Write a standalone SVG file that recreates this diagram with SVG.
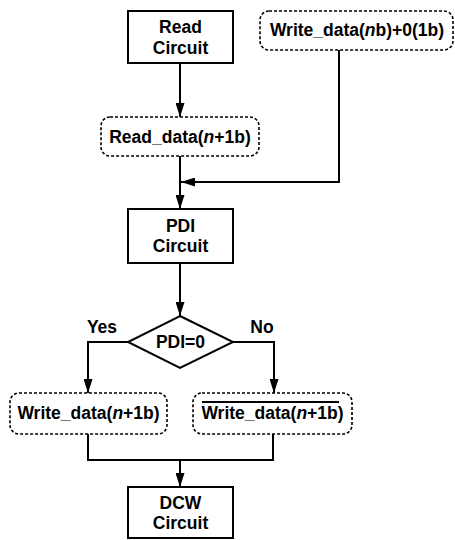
<svg xmlns="http://www.w3.org/2000/svg" width="455" height="540" viewBox="0 0 455 540">
<defs>
<marker id="arr" viewBox="0 0 10 10" refX="10" refY="5" markerWidth="14" markerHeight="9" markerUnits="userSpaceOnUse" orient="auto-start-reverse" preserveAspectRatio="none"><path d="M0,0 L10,5 L0,10 z" fill="#000"/></marker>
<style>
.box{fill:#fff;stroke:#000;stroke-width:2}
.dbox{fill:#fff;stroke:#000;stroke-width:1.6;stroke-dasharray:3 2}
.ln{fill:none;stroke:#000;stroke-width:2}
.ar{marker-end:url(#arr)}
text{font-family:"Liberation Sans",Arial,sans-serif;font-weight:bold;font-size:17.5px;text-anchor:middle;fill:#000}
.it{font-style:italic}
</style>
</defs>
<rect width="455" height="540" fill="#fff"/>
<g id="connectors">
<path class="ln ar" d="M180,63 V117"/>
<path class="ln" d="M180,156 V182"/>
<path class="ln ar" d="M339,50 V182 H181"/>
<path class="ln ar" d="M180,182 V209"/>
<path class="ln ar" d="M180,263 V316"/>
<path class="ln ar" d="M128,342 H88 V393"/>
<path class="ln ar" d="M233,342 H274 V393"/>
<path class="ln" d="M88,434 V460 H273 V434"/>
<path class="ln ar" d="M180,460 V487"/>
</g>
<g id="read-circuit">
<rect class="box" x="128" y="11" width="105" height="52"/>
<text x="180.5" y="33">Read</text>
<text x="180.5" y="54">Circuit</text>
</g>
<g id="write-data-nb">
<rect class="dbox" x="260" y="11" width="193" height="39" rx="9"/>
<text x="357" y="36">Write_data(<tspan class="it">n</tspan>b)+0(1b)</text>
</g>
<g id="read-data">
<rect class="dbox" x="101" y="117" width="158" height="39" rx="9"/>
<text x="180" y="143">Read_data(<tspan class="it">n</tspan>+1b)</text>
</g>
<g id="pdi-circuit">
<rect class="box" x="128" y="209" width="105" height="54"/>
<text x="180.5" y="232">PDI</text>
<text x="180.5" y="252">Circuit</text>
</g>
<g id="pdi-decision">
<path class="box" d="M180,316 L233,342 L180,368 L128,342 Z"/>
<text x="180.5" y="348">PDI=0</text>
<text x="102" y="333">Yes</text>
<text x="262" y="333">No</text>
</g>
<g id="write-data-yes">
<rect class="dbox" x="10" y="393" width="157" height="41" rx="9"/>
<text x="88.5" y="419">Write_data(<tspan class="it">n</tspan>+1b)</text>
</g>
<g id="write-data-no">
<rect class="dbox" x="193" y="393" width="159" height="41" rx="9"/>
<text x="272.5" y="419">Write_data(<tspan class="it">n</tspan>+1b)</text>
<line class="ln" x1="202" y1="402" x2="339" y2="402"/>
</g>
<g id="dcw-circuit">
<rect class="box" x="128" y="487" width="105" height="51"/>
<text x="180.5" y="509">DCW</text>
<text x="180.5" y="529">Circuit</text>
</g>
</svg>
